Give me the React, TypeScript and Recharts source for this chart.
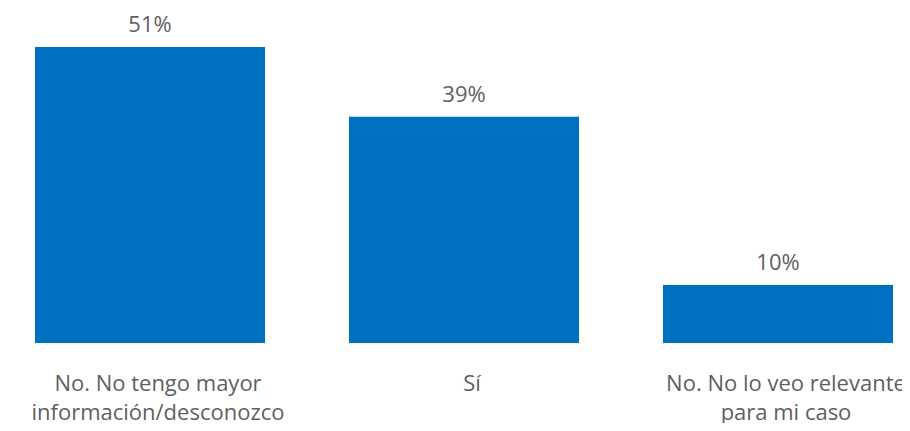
import React from "react";
import { BarChart, Bar, XAxis, YAxis, LabelList } from "recharts";

const categories = [
  "No. No tengo mayor\ninformación/desconozco",
  "Sí",
  "No. No lo veo relevante\npara mi caso",
];
const values = [51, 39, 10];

const data = categories.map((c, i) => ({ name: c, value: values[i] }));

const FONT = "'Open Sans', 'Noto Sans', sans-serif";
const TEXT = "#5f5f5f";

const Tick = (props: any) => {
  const { x, y, payload } = props;
  const lines = String(payload.value).split("\n");
  return (
    <text
      x={x + 8}
      y={y}
      textAnchor="middle"
      fill={TEXT}
      fontFamily={FONT}
      fontSize={22}
    >
      {lines.map((l, i) => (
        <tspan key={i} x={x + 8} dy={i === 0 ? 40 : 29}>
          {l}
        </tspan>
      ))}
    </text>
  );
};

export default function App() {
  return (
    <div style={{ margin: -8, width: 910, height: 431, overflow: "hidden", background: "#fff" }}>
      <div style={{ marginLeft: -7 }}>
        <BarChart
          width={942}
          height={431}
          data={data}
          margin={{ top: 47, right: 0, bottom: 0, left: 0 }}
          barSize={230}
        >
          <XAxis
            dataKey="name"
            axisLine={false}
            tickLine={false}
            height={88}
            interval={0}
            tick={<Tick />}
          />
          <YAxis hide domain={[0, 51]} />
          <Bar dataKey="value" fill="#0070C0" isAnimationActive={false}>
            <LabelList
              dataKey="value"
              position="top"
              offset={15}
              formatter={(v: any) => `${v}%`}
              fill={TEXT}
              fontFamily={FONT}
              fontSize={22}
            />
          </Bar>
        </BarChart>
      </div>
    </div>
  );
}
